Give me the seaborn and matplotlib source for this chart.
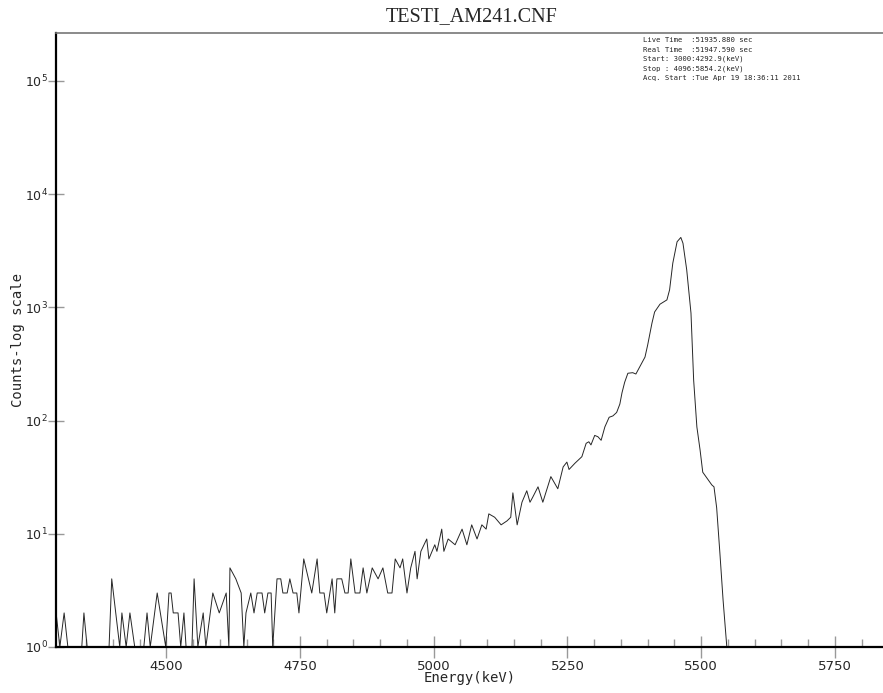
import numpy as np
import pandas as pd
import matplotlib
matplotlib.use("Agg")
import matplotlib.pyplot as plt
import matplotlib.ticker as mticker
import seaborn as sns

energy_kev = [
    4294, 4301, 4309, 4316, 4342, 4346, 4352, 4393, 4398, 4413, 4417, 4425, 4432, 4441,
    4458, 4464, 4470, 4483, 4499, 4505, 4509, 4513, 4522, 4527, 4533, 4537, 4548, 4552,
    4559, 4569, 4574, 4587, 4599, 4612, 4617, 4619, 4630, 4640, 4645, 4649, 4658, 4664,
    4670, 4679, 4684, 4690, 4696, 4699, 4707, 4714, 4718, 4726, 4731, 4737, 4744, 4748,
    4757, 4772, 4782, 4787, 4795, 4800, 4810, 4815, 4819, 4828, 4834, 4840, 4845, 4853,
    4862, 4868, 4875, 4885, 4896, 4905, 4914, 4922, 4928, 4937, 4942, 4950, 4957, 4965,
    4969, 4976, 4987, 4991, 5002, 5006, 5015, 5019, 5027, 5040, 5053, 5062, 5071, 5081,
    5090, 5098, 5103, 5114, 5126, 5137, 5144, 5148, 5156, 5165, 5174, 5180, 5185, 5195,
    5204, 5219, 5232, 5242, 5249, 5253, 5264, 5277, 5285, 5290, 5294, 5301, 5307, 5313,
    5320, 5328, 5335, 5342, 5348, 5352, 5357, 5363, 5372, 5378, 5385, 5395, 5400, 5408,
    5413, 5423, 5436, 5441, 5447, 5455, 5462, 5466, 5473, 5481, 5486, 5492, 5498, 5503,
    5511, 5520, 5524, 5529, 5535, 5541, 5548,
]
counts = [
    2, 1, 2, 1, 1, 2, 1, 1, 4, 1, 2, 1, 2, 1,
    1, 2, 1, 3, 1, 3, 3, 2, 2, 1, 2, 1, 1, 4,
    1, 2, 1, 3, 2, 3, 1, 5, 4, 3, 1, 2, 3, 2,
    3, 3, 2, 3, 3, 1, 4, 4, 3, 3, 4, 3, 3, 2,
    6, 3, 6, 3, 3, 2, 4, 2, 4, 4, 3, 3, 6, 3,
    3, 5, 3, 5, 4, 5, 3, 3, 6, 5, 6, 3, 5, 7,
    4, 7, 9, 6, 8, 7, 11, 7, 9, 8, 11, 8, 12, 9,
    12, 11, 15, 14, 12, 13, 14, 23, 12, 19, 24, 19, 21, 26,
    19, 32, 25, 39, 43, 37, 42, 48, 63, 65, 61, 74, 72, 67,
    88, 107, 110, 118, 140, 176, 218, 262, 265, 258, 297, 364, 465, 725,
    911, 1067, 1165, 1430, 2460, 3800, 4150, 3690, 2150, 890, 227, 88, 55, 35,
    31, 27, 26, 17, 6.8, 2.6, 1,
]

info_lines = [
    "Live Time  :51935.880 sec",
    "Real Time  :51947.590 sec",
    "Start: 3000:4292.9(keV)",
    "Stop : 4096:5854.2(keV)",
    "Acq. Start :Tue Apr 19 18:36:11 2011",
]
title = "TESTI_AM241.CNF"
x_label = "Energy(keV)"
y_label = "Counts-log scale"
x_major = [4500, 4750, 5000, 5250, 5500, 5750]

df = pd.DataFrame({"energy": energy_kev, "counts": counts})

sns.set_theme(style="white")
plt.rcParams["font.family"] = ["DejaVu Sans"]

W, H = 883, 693
fig = plt.figure(figsize=(W / 100, H / 100), dpi=100)
ax = fig.add_axes([56 / W, 46 / H, 1 - 56 / W, (647 - 33) / H])

sns.lineplot(data=df, x="energy", y="counts", ax=ax, color="#262626",
             linewidth=0.7, estimator=None, sort=True)

ax.set_yscale("log")
ax.set_xlim(4293.8, 5840)
ax.set_ylim(1, 10 ** ((647 - 33) / 113.2))

ax.yaxis.set_major_locator(mticker.LogLocator(base=10, numticks=10))
ax.yaxis.set_minor_locator(mticker.NullLocator())
ax.set_xticks(x_major)
ax.set_xticklabels([str(v) for v in x_major])
ax.xaxis.set_minor_locator(mticker.MultipleLocator(50))

ax.tick_params(axis="y", which="major", direction="inout", length=12, width=1,
               color="#999999", labelsize=9, pad=0, left=True)
ax.tick_params(axis="x", which="major", direction="inout", length=16, width=1,
               color="#999999", labelsize=9.5, pad=1, bottom=True)
ax.tick_params(axis="x", which="minor", direction="in", length=6, width=1,
               color="#999999", bottom=True)

for s in ["left", "bottom"]:
    ax.spines[s].set_color("black")
    ax.spines[s].set_linewidth(1.6)
ax.spines["top"].set_color("#777777")
ax.spines["top"].set_linewidth(1.2)
ax.spines["right"].set_visible(False)
ax.grid(False)

ax.set_xlabel(x_label, fontsize=10, family="DejaVu Sans Mono", labelpad=-1)
ax.set_ylabel(y_label, fontsize=10, family="DejaVu Sans Mono", va="center")
ax.yaxis.set_label_coords((18 - 56) / (W - 56), 0.5)

fig.text(472 / W, 1 - 17 / H, title, ha="center", va="center",
         fontsize=14.5, family="Liberation Serif")

for i, line in enumerate(info_lines):
    fig.text(643 / W, 1 - (40 + i * 9.6) / H, line, ha="left", va="center",
             fontsize=5.2, family="DejaVu Sans Mono")

fig.savefig("out.png", dpi=100)
